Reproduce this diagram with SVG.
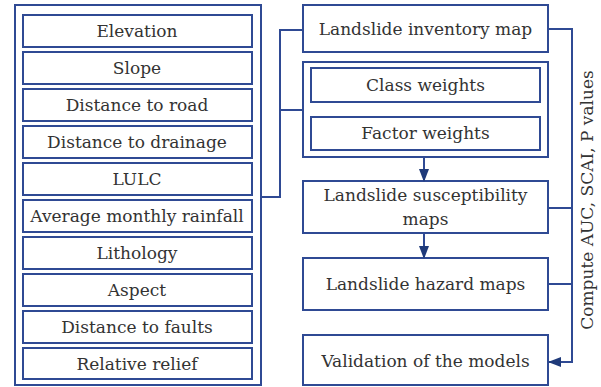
<svg xmlns="http://www.w3.org/2000/svg" width="601" height="387" viewBox="0 0 601 387">
<style>
  .box { fill: #ffffff; stroke: #2f4a94; stroke-width: 2; }
  .lbl { font-family: "DejaVu Serif", "Liberation Serif", serif; font-size: 17px; fill: #333333; text-anchor: middle; }
  .conn { fill: none; stroke: #2f4a94; stroke-width: 2; }
</style>
<defs>
  <marker id="arr" markerWidth="13" markerHeight="10" refX="12" refY="5" orient="auto" markerUnits="userSpaceOnUse">
    <path d="M0,0 L13,5 L0,10 Z" fill="#1f3a7a"/>
  </marker>
</defs>
<rect width="601" height="387" fill="#ffffff"/>

<g id="factors">
  <rect class="box" x="15" y="5" width="246" height="380"/>
  <g id="elevation"><rect class="box" x="23" y="15" width="229" height="32"/><text class="lbl" x="137" y="37">Elevation</text></g>
  <g id="slope"><rect class="box" x="23" y="52" width="229" height="32"/><text class="lbl" x="137" y="74">Slope</text></g>
  <g id="road"><rect class="box" x="23" y="89" width="229" height="32"/><text class="lbl" x="137" y="111">Distance to road</text></g>
  <g id="drainage"><rect class="box" x="23" y="126" width="229" height="32"/><text class="lbl" x="137" y="148">Distance to drainage</text></g>
  <g id="lulc"><rect class="box" x="23" y="163" width="229" height="32"/><text class="lbl" x="137" y="185">LULC</text></g>
  <g id="rainfall"><rect class="box" x="23" y="200" width="229" height="32"/><text class="lbl" x="137" y="222">Average monthly rainfall</text></g>
  <g id="lithology"><rect class="box" x="23" y="237" width="229" height="32"/><text class="lbl" x="137" y="259">Lithology</text></g>
  <g id="aspect"><rect class="box" x="23" y="274" width="229" height="32"/><text class="lbl" x="137" y="296">Aspect</text></g>
  <g id="faults"><rect class="box" x="23" y="311" width="229" height="32"/><text class="lbl" x="137" y="333">Distance to faults</text></g>
  <g id="relief"><rect class="box" x="23" y="348" width="229" height="31"/><text class="lbl" x="137" y="370">Relative relief</text></g>
</g>

<g id="inventory"><rect class="box" x="303" y="5" width="245" height="47"/><text class="lbl" x="425.5" y="35">Landslide inventory map</text></g>

<g id="weights">
  <rect class="box" x="303" y="62" width="245" height="95"/>
  <g id="class-weights"><rect class="box" x="311" y="68" width="229" height="34"/><text class="lbl" x="425.5" y="91">Class weights</text></g>
  <g id="factor-weights"><rect class="box" x="311" y="117" width="229" height="33"/><text class="lbl" x="425.5" y="139">Factor weights</text></g>
</g>

<g id="susceptibility"><rect class="box" x="303" y="181" width="245" height="52"/><text class="lbl" x="425.5" y="201">Landslide susceptibility</text><text class="lbl" x="425.5" y="225">maps</text></g>

<g id="hazard"><rect class="box" x="303" y="258" width="245" height="52"/><text class="lbl" x="425.5" y="290">Landslide hazard maps</text></g>

<g id="validation"><rect class="box" x="303" y="335" width="245" height="50"/><text class="lbl" x="425.5" y="367">Validation of the models</text></g>

<g id="connectors">
  <path class="conn" d="M261,197 H280 V30 H303"/>
  <path class="conn" d="M280,110 H303"/>
  <path class="conn" d="M424,157 V181" marker-end="url(#arr)"/>
  <path class="conn" d="M424,233 V258" marker-end="url(#arr)"/>
  <path class="conn" d="M548,29 H572 V362 H549" marker-end="url(#arr)"/>
  <path class="conn" d="M548,208 H572"/>
  <path class="conn" d="M548,284 H572"/>
</g>

<text class="lbl" transform="translate(593,200) rotate(-90)" x="0" y="0">Compute AUC, SCAI, P values</text>
</svg>
